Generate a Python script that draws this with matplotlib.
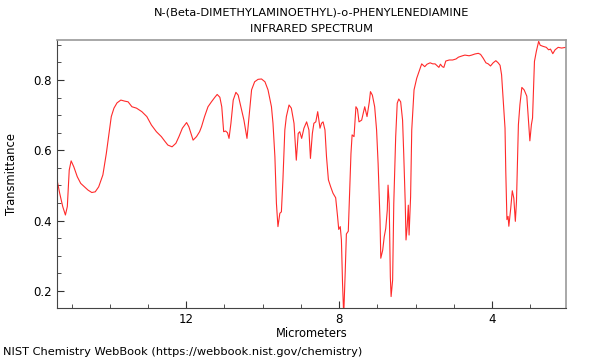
import numpy as np
import matplotlib.pyplot as plt
from matplotlib.ticker import MultipleLocator

# spectrum (micrometers, transmittance)
microns = [15.37, 15.31, 15.23, 15.16, 15.11, 15.06, 15.01, 14.94, 14.85, 14.76,
           14.66, 14.57, 14.47, 14.38, 14.29, 14.18, 14.09, 14.02, 13.96, 13.89,
           13.81, 13.71, 13.61, 13.52, 13.42, 13.30, 13.16, 13.03, 12.91, 12.78,
           12.65, 12.56, 12.48, 12.37, 12.27, 12.19, 12.10, 11.99, 11.93, 11.82,
           11.73, 11.65, 11.60, 11.52, 11.43, 11.34, 11.25, 11.19, 11.12, 11.07,
           11.02, 10.97, 10.92, 10.88, 10.83, 10.77, 10.70, 10.64, 10.58, 10.49,
           10.41, 10.34, 10.29, 10.21, 10.12, 10.03, 9.94, 9.86, 9.77, 9.73,
           9.68, 9.64, 9.60, 9.55, 9.51, 9.47, 9.42, 9.38, 9.31, 9.25,
           9.18, 9.12, 9.07, 9.03, 8.98, 8.92, 8.85, 8.79, 8.75, 8.70,
           8.66, 8.61, 8.56, 8.50, 8.46, 8.42, 8.37, 8.33, 8.28, 8.22,
           8.16, 8.09, 8.04, 8.01, 7.97, 7.94, 7.91, 7.88, 7.84, 7.81,
           7.76, 7.72, 7.69, 7.66, 7.61, 7.56, 7.52, 7.48, 7.41, 7.37,
           7.33, 7.27, 7.21, 7.18, 7.13, 7.07, 7.02, 6.98, 6.93, 6.91,
           6.86, 6.82, 6.78, 6.74, 6.72, 6.69, 6.66, 6.64, 6.60, 6.57,
           6.52, 6.48, 6.44, 6.39, 6.34, 6.31, 6.27, 6.25, 6.22, 6.19,
           6.17, 6.13, 6.10, 6.04, 5.97, 5.91, 5.84, 5.76, 5.70, 5.62,
           5.55, 5.49, 5.43, 5.39, 5.35, 5.30, 5.26, 5.21, 5.12, 5.03,
           4.94, 4.88, 4.80, 4.71, 4.60, 4.53, 4.45, 4.36, 4.30, 4.23,
           4.16, 4.10, 4.04, 3.97, 3.90, 3.84, 3.79, 3.75, 3.71, 3.66,
           3.64, 3.61, 3.58, 3.56, 3.51, 3.47, 3.43, 3.39, 3.36, 3.31,
           3.27, 3.22, 3.16, 3.09, 3.05, 3.01, 2.97, 2.94, 2.89, 2.84,
           2.78, 2.74, 2.67, 2.58, 2.52, 2.47, 2.41, 2.35, 2.27, 2.18,
           2.07]
transmittance = [0.511, 0.478, 0.440, 0.416, 0.440, 0.544, 0.570, 0.553, 0.525, 0.506,
                 0.496, 0.487, 0.480, 0.482, 0.496, 0.530, 0.591, 0.648, 0.696, 0.720,
                 0.735, 0.743, 0.740, 0.738, 0.724, 0.720, 0.710, 0.696, 0.672, 0.653,
                 0.639, 0.626, 0.615, 0.610, 0.620, 0.639, 0.663, 0.679, 0.667, 0.629,
                 0.639, 0.653, 0.667, 0.696, 0.724, 0.738, 0.751, 0.759, 0.751, 0.724,
                 0.653, 0.655, 0.650, 0.634, 0.677, 0.743, 0.765, 0.757, 0.729, 0.686,
                 0.634, 0.715, 0.772, 0.795, 0.802, 0.803, 0.795, 0.772, 0.724, 0.677,
                 0.582, 0.449, 0.383, 0.421, 0.425, 0.516, 0.658, 0.696, 0.729, 0.720,
                 0.677, 0.572, 0.648, 0.653, 0.634, 0.663, 0.681, 0.658, 0.577, 0.648,
                 0.677, 0.681, 0.710, 0.663, 0.677, 0.681, 0.658, 0.582, 0.516, 0.496,
                 0.478, 0.465, 0.411, 0.375, 0.383, 0.345, 0.220, 0.130, 0.255, 0.362,
                 0.370, 0.500, 0.591, 0.644, 0.639, 0.724, 0.717, 0.681, 0.686, 0.705,
                 0.724, 0.696, 0.738, 0.767, 0.757, 0.724, 0.658, 0.563, 0.402, 0.293,
                 0.316, 0.354, 0.378, 0.430, 0.501, 0.449, 0.240, 0.184, 0.231, 0.449,
                 0.639, 0.734, 0.746, 0.738, 0.686, 0.591, 0.449, 0.345, 0.383, 0.444,
                 0.359, 0.468, 0.658, 0.772, 0.805, 0.824, 0.846, 0.838, 0.845, 0.849,
                 0.846, 0.846, 0.840, 0.836, 0.845, 0.838, 0.836, 0.854, 0.857, 0.857,
                 0.860, 0.865, 0.868, 0.871, 0.869, 0.871, 0.874, 0.876, 0.873, 0.862,
                 0.849, 0.846, 0.840, 0.849, 0.855, 0.849, 0.842, 0.815, 0.749, 0.663,
                 0.540, 0.403, 0.412, 0.384, 0.436, 0.485, 0.464, 0.398, 0.455, 0.673,
                 0.730, 0.779, 0.772, 0.754, 0.692, 0.627, 0.673, 0.692, 0.853, 0.882,
                 0.910, 0.899, 0.896, 0.893, 0.886, 0.888, 0.875, 0.886, 0.893, 0.891,
                 0.893]

title_lines = ["N-(Beta-DIMETHYLAMINOETHYL)-o-PHENYLENEDIAMINE", "INFRARED SPECTRUM"]
footer = "NIST Chemistry WebBook (https://webbook.nist.gov/chemistry)"

fig = plt.figure(figsize=(6, 3.6), dpi=100)
ax = fig.add_axes([0.095, 0.144, 0.848, 0.745])

ax.plot(microns, transmittance, color='#ff2a2a', linewidth=0.8)

ax.set_xlim(15.38, 2.07)
ax.set_ylim(0.151, 0.914)
ax.xaxis.set_major_locator(MultipleLocator(4))
ax.xaxis.set_minor_locator(MultipleLocator(1))
ax.yaxis.set_major_locator(MultipleLocator(0.2))
ax.yaxis.set_minor_locator(MultipleLocator(0.05))
ax.tick_params(which='both', direction='in', top=False, right=False,
               labelsize=8.5, colors='#333333', labelcolor='black')
ax.tick_params(which='major', length=5)
ax.tick_params(which='minor', length=3)

for side in ['left', 'bottom']:
    ax.spines[side].set_color('#444444')
for side in ['top', 'right']:
    ax.spines[side].set_color('#999999')
    ax.spines[side].set_linewidth(1.2)

ax.set_xlabel("Micrometers", fontsize=8.3, labelpad=1)
ax.set_ylabel("Transmittance", fontsize=8.3, labelpad=11)

# two-line title, positioned per line
fig.text(0.519, 0.966, title_lines[0], ha='center', va='center', fontsize=8.2)
fig.text(0.519, 0.919, title_lines[1], ha='center', va='center', fontsize=8.2)
fig.text(0.005, 0.008, footer, ha='left', va='bottom', fontsize=8.2)

fig.savefig("out.png", dpi=100)
